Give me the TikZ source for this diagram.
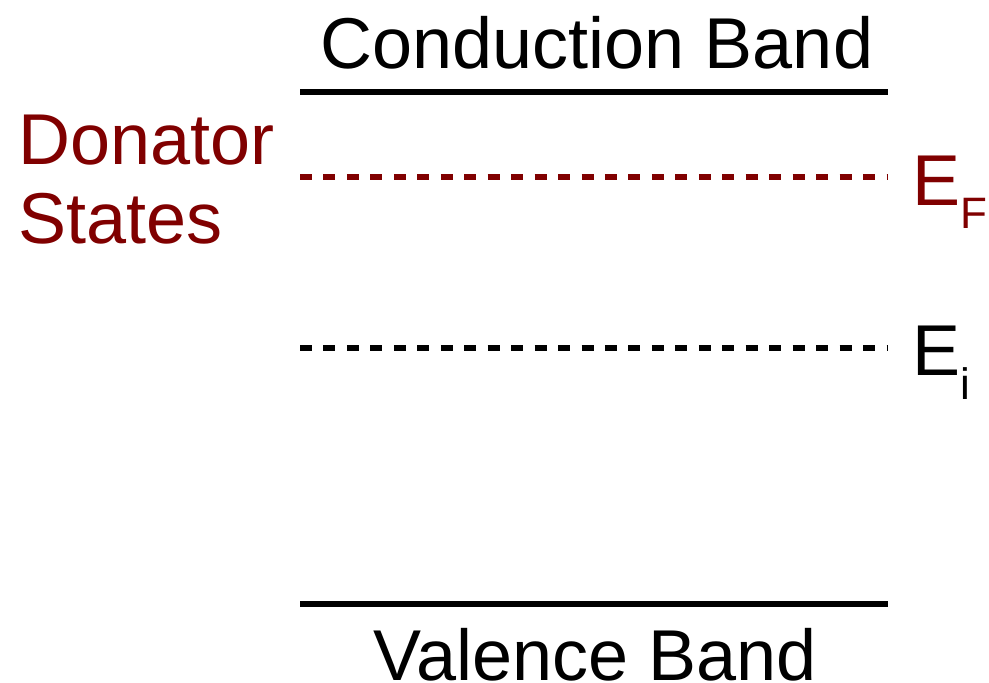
\documentclass[tikz,border=0pt]{standalone}
\usepackage{fontspec}
\setmainfont{Liberation Sans}
\definecolor{donor}{HTML}{800000}
\begin{document}
\begin{tikzpicture}[x=1pt,y=-1pt,
  big/.style={inner sep=0pt,font=\fontsize{72}{79}\selectfont},
  band/.style={line width=6pt},
  level/.style={line width=6pt,dash pattern=on 12pt off 11.46pt},
  sub/.style={font=\fontsize{44}{44}\selectfont}]
  \useasboundingbox (0,0) rectangle (989,683);
  % band edges
  \coordinate (cbL) at (300,92);  \coordinate (cbR) at (888,92);
  \coordinate (vbL) at (300,604); \coordinate (vbR) at (888,604);
  \draw[band] (cbL) -- (cbR);
  \draw[band] (vbL) -- (vbR);
  % Fermi level and intrinsic level
  \coordinate (efL) at (300,177); \coordinate (efR) at (888,177);
  \coordinate (eiL) at (300,348); \coordinate (eiR) at (888,348);
  \draw[level,donor] (efL) -- (efR);
  \draw[level] (eiL) -- (eiR);
  % labels
  \node[big,anchor=base] (cb) at (597,68) {Conduction Band};
  \node[big,anchor=base] (vb) at (595,680) {Valence Band};
  \node[big,anchor=base west,text=donor,align=left] (ds) at (18,243) {Donator\\States};
  \node[big,anchor=base west,text=donor] (ef) at (912,205) {E\raisebox{-23pt}{\fontsize{44}{44}\selectfont F}};
  \node[big,anchor=base west] (ei) at (912,375) {E\raisebox{-24pt}{\fontsize{44}{44}\selectfont i}};
\end{tikzpicture}
\end{document}
